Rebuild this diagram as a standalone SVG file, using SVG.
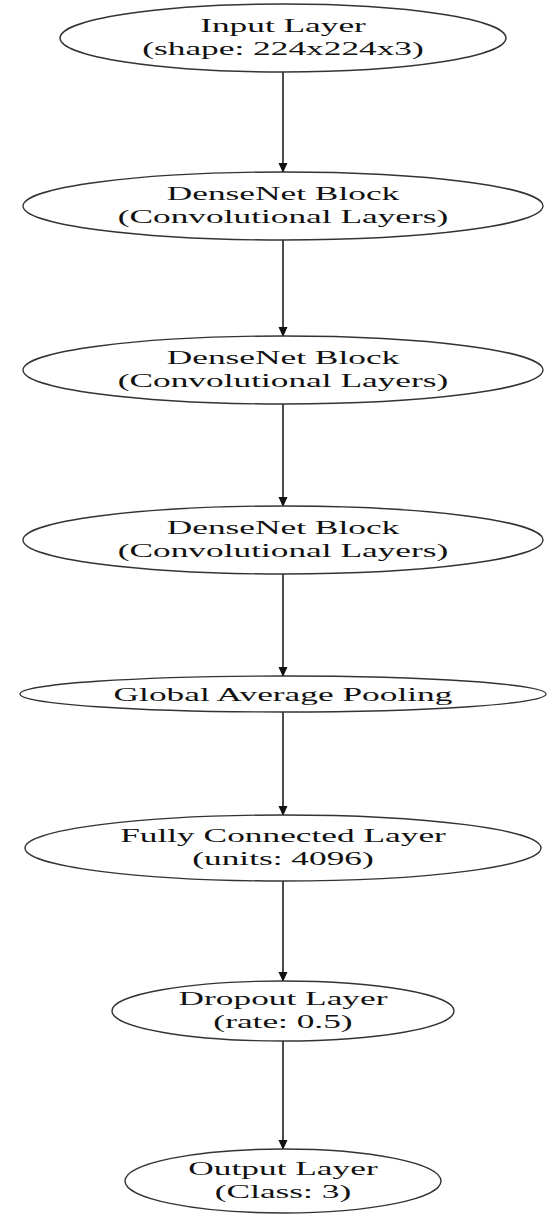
<svg xmlns="http://www.w3.org/2000/svg" width="547" height="1214" viewBox="0 0 547 1214">
<style>
.n ellipse{fill:#fff;stroke:#333;stroke-width:1.4}
.n text{font-family:"Liberation Serif","Times New Roman",serif;font-size:19px;fill:#111;text-anchor:middle}
.e line{stroke:#111;stroke-width:1.5}
</style>
<defs>
<marker id="ah" markerWidth="10" markerHeight="11" refX="10" refY="5" orient="auto" markerUnits="userSpaceOnUse" viewBox="0 0 11 10">
<path d="M0,0 L11,5 L0,10 Z" fill="#111"/>
</marker>
</defs>
<rect width="547" height="1214" fill="#fff"/>
<g id="connectors" class="e">
<line x1="283" y1="72" x2="283" y2="172" marker-end="url(#ah)"/>
<line x1="283" y1="240" x2="283" y2="336" marker-end="url(#ah)"/>
<line x1="283" y1="404" x2="283" y2="506" marker-end="url(#ah)"/>
<line x1="283" y1="574" x2="283" y2="676" marker-end="url(#ah)"/>
<line x1="283" y1="712" x2="283" y2="815" marker-end="url(#ah)"/>
<line x1="283" y1="881" x2="283" y2="981" marker-end="url(#ah)"/>
<line x1="283" y1="1041" x2="283" y2="1149" marker-end="url(#ah)"/>
</g>
<g id="input" class="n">
<ellipse cx="283" cy="38" rx="223" ry="34"/>
<text transform="translate(283,32) scale(1.86,1)">Input Layer</text>
<text transform="translate(283,55) scale(1.86,1)">(shape: 224x224x3)</text>
</g>
<g id="dense1" class="n">
<ellipse cx="283" cy="206" rx="260" ry="34"/>
<text transform="translate(283,200) scale(1.86,1)">DenseNet Block</text>
<text transform="translate(283,223) scale(1.86,1)">(Convolutional Layers)</text>
</g>
<g id="dense2" class="n">
<ellipse cx="283" cy="370" rx="260" ry="34"/>
<text transform="translate(283,364) scale(1.86,1)">DenseNet Block</text>
<text transform="translate(283,387) scale(1.86,1)">(Convolutional Layers)</text>
</g>
<g id="dense3" class="n">
<ellipse cx="283" cy="540" rx="260" ry="34"/>
<text transform="translate(283,534) scale(1.86,1)">DenseNet Block</text>
<text transform="translate(283,557) scale(1.86,1)">(Convolutional Layers)</text>
</g>
<g id="gap" class="n">
<ellipse cx="283" cy="694" rx="263" ry="18"/>
<text transform="translate(283,701) scale(1.86,1)">Global Average Pooling</text>
</g>
<g id="fc" class="n">
<ellipse cx="283" cy="848" rx="258" ry="33"/>
<text transform="translate(283,842) scale(1.86,1)">Fully Connected Layer</text>
<text transform="translate(283,865) scale(1.86,1)">(units: 4096)</text>
</g>
<g id="dropout" class="n">
<ellipse cx="283" cy="1011" rx="171" ry="30"/>
<text transform="translate(283,1005) scale(1.86,1)">Dropout Layer</text>
<text transform="translate(283,1028) scale(1.86,1)">(rate: 0.5)</text>
</g>
<g id="output" class="n">
<ellipse cx="283" cy="1181" rx="158" ry="32"/>
<text transform="translate(283,1175) scale(1.86,1)">Output Layer</text>
<text transform="translate(283,1198) scale(1.86,1)">(Class: 3)</text>
</g>
</svg>
